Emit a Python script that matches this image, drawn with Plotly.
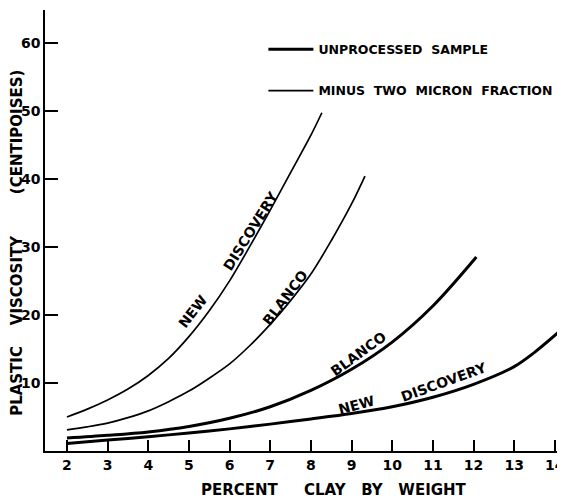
import plotly.graph_objects as go

# Minus two micron fraction (thin lines)
nd_thin_x = [2, 2.5, 3, 3.5, 4, 4.5, 5, 5.5, 6, 6.5, 7, 7.5, 8, 8.27]
nd_thin_y = [5.0, 6.15, 7.5, 9.1, 11.1, 13.6, 16.8, 20.6, 25.0, 30.1, 35.4, 40.9, 46.4, 49.7]
bl_thin_x = [2, 2.5, 3, 3.5, 4, 4.5, 5, 5.5, 6, 6.5, 7, 7.5, 8, 8.5, 9, 9.33]
bl_thin_y = [3.1, 3.55, 4.1, 4.9, 5.9, 7.25, 8.8, 10.7, 12.8, 15.5, 18.6, 22.1, 26.0, 30.9, 36.3, 40.4]
# Unprocessed sample (thick lines)
bl_thick_x = [2, 3, 4, 5, 6, 7, 8, 9, 10, 11, 12.07]
bl_thick_y = [1.9, 2.3, 2.8, 3.6, 4.8, 6.5, 8.9, 12.0, 16.0, 21.3, 28.5]
nd_thick_x = [2, 3, 4, 5, 6, 7, 8, 9, 10, 11, 12, 13, 13.5, 14.08]
nd_thick_y = [1.1, 1.6, 2.1, 2.65, 3.25, 3.95, 4.7, 5.5, 6.5, 7.9, 9.8, 12.4, 14.5, 17.4]

x_ticks = list(range(2, 15))
y_ticks = [10, 20, 30, 40, 50, 60]

NB = "\u00a0"
x_title = "PERCENT" + NB * 5 + "CLAY" + NB * 3 + "BY" + NB * 3 + "WEIGHT"
y_title = "PLASTIC" + NB * 4 + "VISCOSITY" + NB * 8 + "(CENTIPOISES)"
leg_thick = "UNPROCESSED" + NB * 2 + "SAMPLE"
leg_thin = "MINUS" + NB * 2 + "TWO" + NB * 2 + "MICRON" + NB * 2 + "FRACTION"

FONT = "DejaVu Sans"
fig = go.Figure()

thick = dict(color="black", width=3, shape="spline", smoothing=0.9)
thin = dict(color="black", width=1.7, shape="spline", smoothing=0.9)

fig.add_trace(go.Scatter(x=bl_thick_x, y=bl_thick_y, mode="lines", line=thick,
                         name=leg_thick, legendgroup="a", showlegend=True))
fig.add_trace(go.Scatter(x=nd_thick_x, y=nd_thick_y, mode="lines", line=thick,
                         name=leg_thick, legendgroup="a", showlegend=False))
fig.add_trace(go.Scatter(x=nd_thin_x, y=nd_thin_y, mode="lines", line=thin,
                         name=leg_thin, legendgroup="b", showlegend=True))
fig.add_trace(go.Scatter(x=bl_thin_x, y=bl_thin_y, mode="lines", line=thin,
                         name=leg_thin, legendgroup="b", showlegend=False))

labels = [
    ("NEW", 5.10, 20.6, -52),
    ("DISCOVERY", 6.52, 32.3, -58),
    ("BLANCO", 7.36, 22.5, -53),
    ("BLANCO", 9.16, 14.3, -36),
    ("NEW", 9.11, 6.8, -15),
    ("DISCOVERY", 11.27, 10.1, -20),
]
for t, x, y, a in labels:
    fig.add_annotation(x=x, y=y, text=t, textangle=a, showarrow=False,
                       font=dict(family=FONT, size=14, color="black", weight="bold"))

# axis titles as annotations (positioned like the reference)
fig.add_annotation(xref="paper", yref="paper", x=0.556, y=-0.088, xanchor="center",
                   yanchor="middle", text=x_title, showarrow=False,
                   font=dict(family=FONT, size=15, color="black", weight="bold"))
fig.add_annotation(xref="paper", yref="paper", x=-0.053, y=0.473, xanchor="center",
                   yanchor="middle", text=y_title, textangle=-90, showarrow=False,
                   font=dict(family=FONT, size=15, color="black", weight="bold"))

# page body has an 8px default margin -> compensate so the plot area sits where the reference has it
fig.update_layout(
    width=565, height=500,
    margin=dict(l=37, r=8, t=2, b=57),
    paper_bgcolor="white", plot_bgcolor="white",
    showlegend=True,
    legend=dict(x=0.42, y=0.944, xanchor="left", yanchor="top",
                font=dict(family=FONT, size=12.5, color="black", weight="bold"),
                tracegroupgap=22, traceorder="grouped",
                bgcolor="rgba(0,0,0,0)", borderwidth=0, itemwidth=45),
    font=dict(family=FONT, color="black"),
)
fig.update_xaxes(range=[1.46, 14.25], tickvals=x_ticks, ticks="inside", ticklen=11,
                 tickwidth=1.5, tickcolor="black", showline=True, linecolor="black",
                 linewidth=1.5, showgrid=False, zeroline=False, automargin=False,
                 tickfont=dict(family=FONT, size=14, color="black", weight="bold"))
fig.update_yaxes(range=[0, 64.8], tickvals=y_ticks, ticks="inside", ticklen=13,
                 tickwidth=1.5, tickcolor="black", showline=True, linecolor="black",
                 linewidth=1.5, showgrid=False, zeroline=False, automargin=False,
                 tickfont=dict(family=FONT, size=14, color="black", weight="bold"))

fig.write_html("out.html")
